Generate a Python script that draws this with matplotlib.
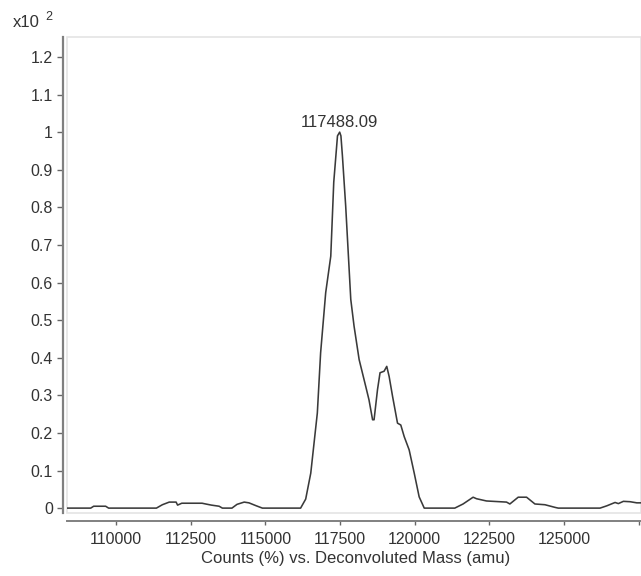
import matplotlib
matplotlib.use("Agg")
import matplotlib.pyplot as plt
from matplotlib.patches import Rectangle

plt.rcParams['font.family'] = ['Liberation Sans', 'DejaVu Sans']

# Deconvoluted mass (amu) and counts (x10^2 %)
mass = [108356, 109150, 109250, 109650, 109750, 111350, 111550, 111780, 112010, 112060,
        112200, 112880, 113000, 113190, 113450, 113560, 113880, 114050, 114290, 114450,
        114700, 114900, 116180, 116350, 116520, 116740, 116850, 117020, 117190, 117290,
        117415, 117488, 117530, 117580, 117690, 117860, 117970, 118140, 118360, 118470,
        118590, 118640, 118755, 118840, 118975, 119065, 119145, 119260, 119425, 119535,
        119650, 119815, 119985, 120150, 120320, 121343, 121621, 121957, 122070, 122405,
        123077, 123188, 123467, 123748, 124027, 124363, 124698, 124808, 126208, 126432,
        126711, 126822, 126990, 127215, 127440, 127584]
counts = [0.0, 0.0, 0.005, 0.005, 0.0, 0.0, 0.009, 0.016, 0.016, 0.008,
          0.013, 0.013, 0.011, 0.008, 0.005, 0.0, 0.0, 0.01, 0.016, 0.014,
          0.006, 0.0, 0.0, 0.024, 0.093, 0.253, 0.413, 0.573, 0.67, 0.867,
          0.99, 1.0, 0.99, 0.937, 0.803, 0.555, 0.484, 0.395, 0.324, 0.288,
          0.235, 0.235, 0.315, 0.36, 0.364, 0.377, 0.35, 0.297, 0.226, 0.221,
          0.19, 0.155, 0.093, 0.03, 0.0, 0.0, 0.011, 0.029, 0.025, 0.019,
          0.016, 0.011, 0.029, 0.029, 0.011, 0.009, 0.002, 0.0, 0.0, 0.006,
          0.015, 0.012, 0.018, 0.017, 0.014, 0.014]

x_ticks = [110000, 112500, 115000, 117500, 120000, 122500, 125000, 127500]
x_tick_labels = ["110000", "112500", "115000", "117500", "120000", "122500", "125000", ""]
y_ticks = [0, 0.1, 0.2, 0.3, 0.4, 0.5, 0.6, 0.7, 0.8, 0.9, 1.0, 1.1, 1.2]
y_tick_labels = ["0", "0.1", "0.2", "0.3", "0.4", "0.5", "0.6", "0.7", "0.8", "0.9", "1", "1.1", "1.2"]
peak_label = "117488.09"
peak_mass = 117488
peak_value = 1.0

W, H = 641, 576
fig = plt.figure(figsize=(W / 100, H / 100), dpi=100)
left, right, top, bottom = 67, 641, 37, 513
ax = fig.add_axes([left / W, 1 - bottom / H, (right - left) / W, (bottom - top) / H])

txt = '#333333'
ax.plot(mass, counts, color='#3a3a3a', lw=1.15, solid_joinstyle='round')
ax.set_xlim(108356, 127580)
ax.set_ylim(-0.013, 1.253)

ax.set_xticks(x_ticks)
ax.set_xticklabels(x_tick_labels)
ax.set_yticks(y_ticks)
ax.set_yticklabels(y_tick_labels)
ax.tick_params(axis='both', colors='#666666', labelcolor=txt, labelsize=11.5, width=1)
ax.tick_params(axis='x', length=3, pad=4.5)
ax.tick_params(axis='y', length=4.3, pad=2.8)

for s in ['top', 'right']:
    ax.spines[s].set_visible(False)
ax.spines['left'].set_color('#808080')
ax.spines['left'].set_linewidth(1.6)
ax.spines['left'].set_position(('outward', 3))
ax.spines['bottom'].set_color('#808080')
ax.spines['bottom'].set_linewidth(1.4)
ax.spines['bottom'].set_position(('outward', 6))

ax.add_patch(Rectangle((0, 0), 1, 1, transform=ax.transAxes, fill=False,
                       edgecolor='#e4e4e4', lw=1.2, clip_on=False, zorder=0))

ax.annotate(peak_label, xy=(peak_mass, peak_value), xytext=(0, 3.5), textcoords='offset points',
            ha='center', va='baseline', fontsize=12, color=txt)

fig.text(356 / W, 1 - 563 / H, "Counts (%) vs. Deconvoluted Mass (amu)", fontsize=12,
         color=txt, ha='center', va='baseline')

fig.text(13 / W, 1 - 27 / H, "x10", fontsize=12, color=txt, ha='left', va='baseline')
fig.text(45 / W, 1 - 20 / H, "2", fontsize=9, color=txt, ha='left', va='baseline')

fig.savefig("out.png", dpi=100)
